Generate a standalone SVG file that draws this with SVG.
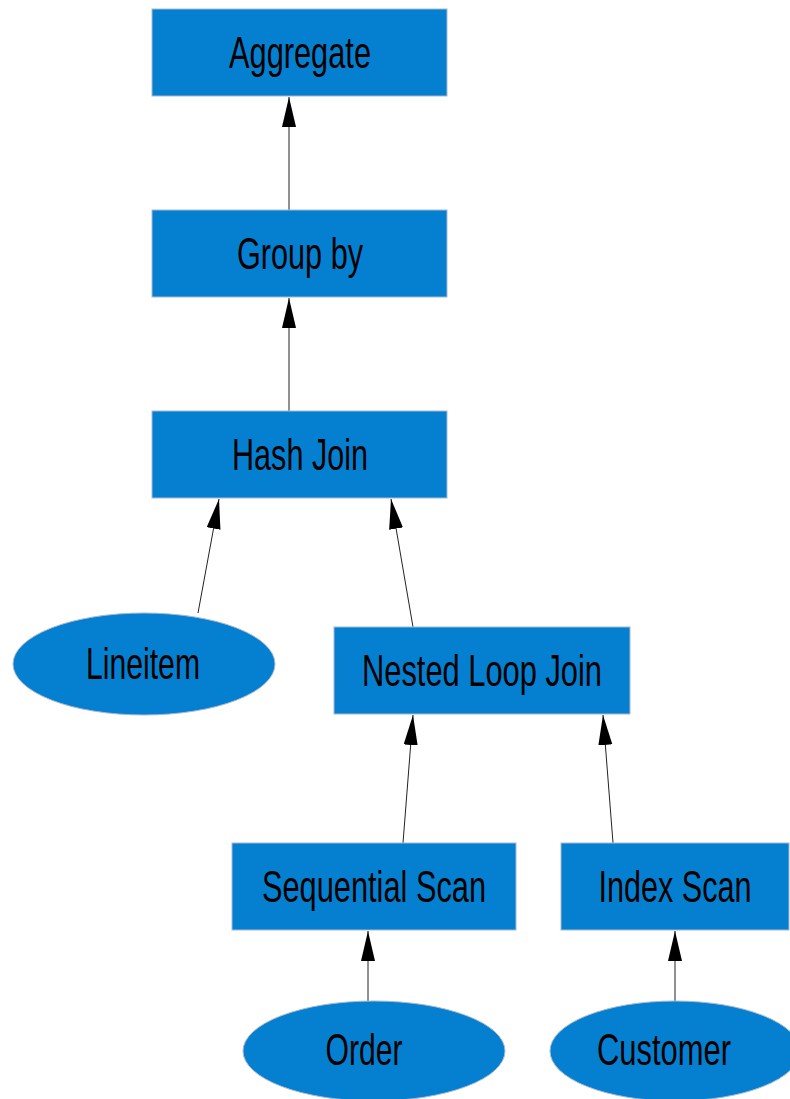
<svg xmlns="http://www.w3.org/2000/svg" width="790" height="1099" viewBox="0 0 790 1099">
<style>
.n{fill:#0580d0;stroke:#a8b8d0;stroke-width:1}
.t{font-family:"Liberation Sans",Arial,sans-serif;font-size:44px;fill:#000;text-anchor:middle}
.e{stroke:#222;stroke-width:1;fill:none;marker-end:url(#ah)}
</style>
<defs>
<marker id="ah" markerUnits="userSpaceOnUse" markerWidth="31" markerHeight="15" refX="30" refY="7" orient="auto" viewBox="0 0 31 15">
<path d="M0,0 L30,7 L0,14 z" fill="#000"/>
</marker>
</defs>
<rect width="790" height="1099" fill="#fff"/>
<g id="edges">
<line class="e" x1="289" y1="210" x2="289" y2="97"/>
<line class="e" x1="289" y1="411" x2="289" y2="298"/>
<line class="e" x1="198" y1="613" x2="219" y2="499"/>
<line class="e" x1="413" y1="627" x2="391" y2="499"/>
<line class="e" x1="403" y1="843" x2="413" y2="715"/>
<line class="e" x1="613" y1="843" x2="603" y2="715"/>
<line class="e" x1="368" y1="1001" x2="368" y2="931"/>
<line class="e" x1="675" y1="1001" x2="675" y2="931"/>
</g>
<g id="aggregate">
<rect class="n" x="152" y="9" width="295" height="87"/>
<text class="t" x="300" y="68" textLength="142" lengthAdjust="spacingAndGlyphs">Aggregate</text>
</g>
<g id="groupby">
<rect class="n" x="152" y="210" width="295" height="87"/>
<text class="t" x="300" y="269" textLength="126" lengthAdjust="spacingAndGlyphs">Group by</text>
</g>
<g id="hashjoin">
<rect class="n" x="152" y="411" width="295" height="87"/>
<text class="t" x="300" y="470" textLength="136" lengthAdjust="spacingAndGlyphs">Hash Join</text>
</g>
<g id="lineitem">
<ellipse class="n" cx="144" cy="664" rx="131" ry="51"/>
<text class="t" x="143" y="679" textLength="114" lengthAdjust="spacingAndGlyphs">Lineitem</text>
</g>
<g id="nestedloop">
<rect class="n" x="334" y="627" width="296" height="87"/>
<text class="t" x="482" y="686" textLength="240" lengthAdjust="spacingAndGlyphs">Nested Loop Join</text>
</g>
<g id="seqscan">
<rect class="n" x="232" y="843" width="284" height="87"/>
<text class="t" x="374" y="902" textLength="224" lengthAdjust="spacingAndGlyphs">Sequential Scan</text>
</g>
<g id="indexscan">
<rect class="n" x="561" y="843" width="228" height="87"/>
<text class="t" x="675" y="902" textLength="153" lengthAdjust="spacingAndGlyphs">Index Scan</text>
</g>
<g id="order">
<ellipse class="n" cx="374" cy="1051" rx="131" ry="50"/>
<text class="t" x="364" y="1065" textLength="77" lengthAdjust="spacingAndGlyphs">Order</text>
</g>
<g id="customer">
<ellipse class="n" cx="675" cy="1051" rx="125" ry="50"/>
<text class="t" x="664" y="1065" textLength="134" lengthAdjust="spacingAndGlyphs">Customer</text>
</g>
</svg>
